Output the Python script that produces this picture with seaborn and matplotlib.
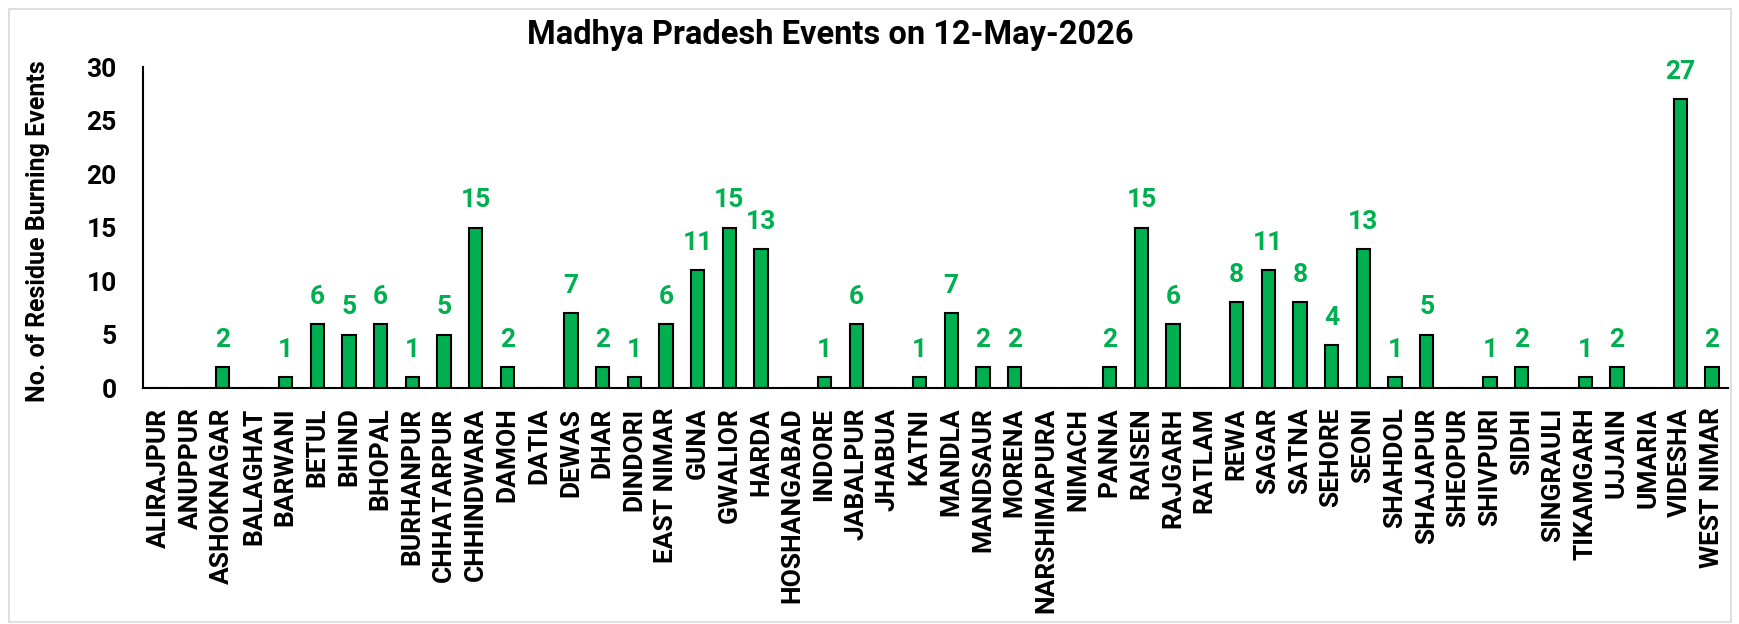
import numpy as np
import pandas as pd
import seaborn as sns
import matplotlib.pyplot as plt
from matplotlib.patches import Rectangle

districts = ['ALIRAJPUR', 'ANUPPUR', 'ASHOKNAGAR', 'BALAGHAT', 'BARWANI', 'BETUL', 'BHIND',
             'BHOPAL', 'BURHANPUR', 'CHHATARPUR', 'CHHINDWARA', 'DAMOH', 'DATIA', 'DEWAS',
             'DHAR', 'DINDORI', 'EAST NIMAR', 'GUNA', 'GWALIOR', 'HARDA', 'HOSHANGABAD',
             'INDORE', 'JABALPUR', 'JHABUA', 'KATNI', 'MANDLA', 'MANDSAUR', 'MORENA',
             'NARSHIMAPURA', 'NIMACH', 'PANNA', 'RAISEN', 'RAJGARH', 'RATLAM', 'REWA',
             'SAGAR', 'SATNA', 'SEHORE', 'SEONI', 'SHAHDOL', 'SHAJAPUR', 'SHEOPUR',
             'SHIVPURI', 'SIDHI', 'SINGRAULI', 'TIKAMGARH', 'UJJAIN', 'UMARIA', 'VIDESHA',
             'WEST NIMAR']
events = [0, 0, 2, 0, 1, 6, 5, 6, 1, 5, 15, 2, 0, 7, 2, 1, 6, 11, 15, 13, 0, 1, 6, 0, 1,
          7, 2, 2, 0, 0, 2, 15, 6, 0, 8, 11, 8, 4, 13, 1, 5, 0, 1, 2, 0, 1, 2, 0, 27, 2]

df = pd.DataFrame({'District': districts, 'Events': events})

sns.set_style('white')
plt.rcParams['font.family'] = ['Roboto', 'DejaVu Sans']
plt.rcParams['font.weight'] = 'bold'
for k in ['text.color', 'axes.labelcolor', 'xtick.color', 'ytick.color']:
    plt.rcParams[k] = 'black'

green = '#00B050'
fig, ax = plt.subplots(figsize=(17.4, 6.24), dpi=100)
fig.subplots_adjust(left=0.0822, right=0.993, top=0.8926, bottom=0.378)

sns.barplot(data=df, x='District', y='Events', ax=ax, color=green, saturation=1,
            width=0.42, edgecolor='black', linewidth=1.5)

# labels only for non-zero bars
for i, v in enumerate(events):
    if v > 0:
        ax.annotate(str(v), (i, v), xytext=(0, 14.5), textcoords='offset points',
                    ha='center', va='baseline', color=green, fontsize=19, fontweight='bold')

ax.set_ylim(0, 30)
ax.set_xlim(-0.5, len(districts) - 0.5)
ax.set_yticks(range(0, 31, 5))
ax.set_xticks(np.arange(-0.5, len(districts), 1), minor=True)
ax.tick_params(axis='x', which='major', length=0, labelsize=19, labelrotation=90, pad=14)
ax.tick_params(axis='x', which='minor', length=7, width=1.5, color='black', direction='out')
ax.tick_params(axis='y', length=6, width=1.5, color='black', direction='out', labelsize=19, pad=13)
for lbl in ax.get_xticklabels() + ax.get_yticklabels():
    lbl.set_fontweight('bold')

for s in ['top', 'right']:
    ax.spines[s].set_visible(False)
for s in ['left', 'bottom']:
    ax.spines[s].set_color('black')
    ax.spines[s].set_linewidth(1.5)

ax.set_xlabel('')
ax.set_ylabel('No. of Residue Burning Events', fontsize=18, fontweight='bold')
ax.yaxis.set_label_coords(-0.0587, 0.49)
fig.text(0.477, 0.93, 'Madhya Pradesh Events on 12-May-2026', ha='center', va='baseline',
         fontsize=23.5, fontweight='bold')

fig.patches.append(Rectangle((0.005, 0.003), 0.99, 0.982, transform=fig.transFigure,
                             fill=False, edgecolor='#d9d9d9', linewidth=1.2))

fig.savefig('out.png', dpi=100)
